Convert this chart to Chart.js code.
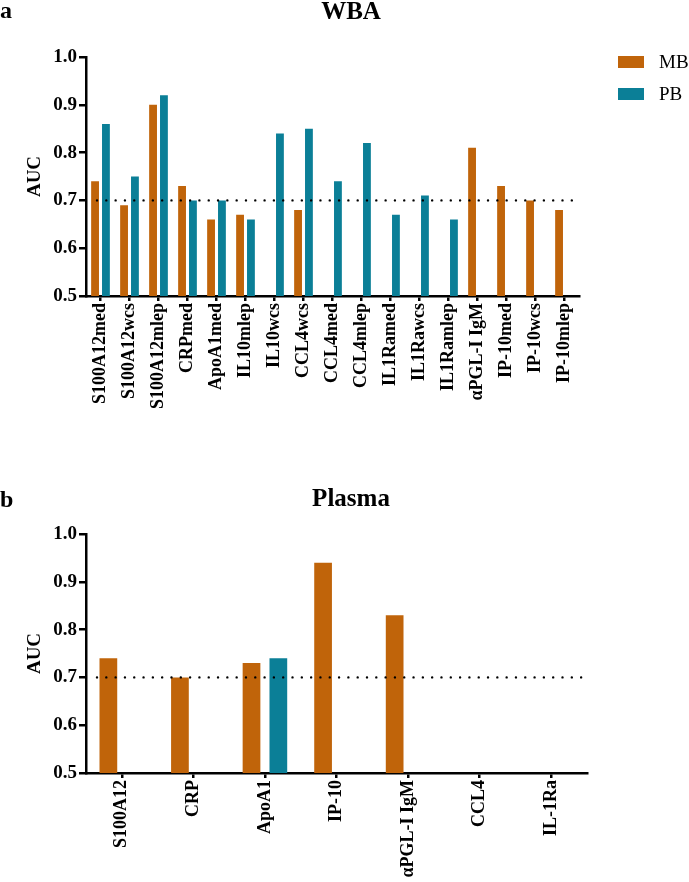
<!DOCTYPE html>
<html>
<head>
<meta charset="utf-8">
<script src="https://cdn.jsdelivr.net/npm/chart.js@4.4.1/dist/chart.umd.min.js"></script>
<style>
  html, body { margin: 0; padding: 0; background: #fff; width: 689px; height: 882px; overflow: hidden; }
  #wrap { position: relative; width: 689px; height: 882px; overflow: hidden; }
  canvas { position: absolute; left: 0; }
  #c1 { top: 0; }
  #c2 { top: 470px; }
</style>
</head>
<body>
<div id="wrap">
<canvas id="c1" width="702" height="440"></canvas>
<canvas id="c2" width="702" height="412"></canvas>
</div>
<script>
// ---- Data ----
const seriesNames = ['MB', 'PB'];
const wbaCategories = ['S100A12med', 'S100A12wcs', 'S100A12mlep', 'CRPmed', 'ApoA1med', 'IL10mlep', 'IL10wcs',
  'CCL4wcs', 'CCL4med', 'CCL4mlep', 'IL1Ramed', 'IL1Rawcs', 'IL1Ramlep', 'αPGL-I IgM', 'IP-10med', 'IP-10wcs', 'IP-10mlep'];
const wbaMB = [0.74, 0.69, 0.90, 0.73, 0.66, 0.67, null, 0.68, null, null, null, null, null, 0.81, 0.73, 0.70, 0.68];
const wbaPB = [0.86, 0.75, 0.92, 0.70, 0.70, 0.66, 0.84, 0.85, 0.74, 0.82, 0.67, 0.71, 0.66, null, null, null, null];

const plasmaCategories = ['S100A12', 'CRP', 'ApoA1', 'IP-10', 'αPGL-I IgM', 'CCL4', 'IL-1Ra'];
const plasmaMB = [0.74, 0.70, 0.73, 0.94, 0.83, null, null];
const plasmaPB = [null, null, 0.74, null, null, null, null];

const yTicks = [0.5, 0.6, 0.7, 0.8, 0.9, 1.0];
const threshold = 0.7;

// ---- Styles ----
const MB_COLOR = '#C0640A';
const PB_COLOR = '#0B7F97';
const SERIF = '"Liberation Serif", "Times New Roman", serif';

const thresholdPlugin = {
  id: 'threshold',
  afterDatasetsDraw(chart) {
    const { ctx, chartArea } = chart;
    const y = chart.scales.y.getPixelForValue(threshold);
    ctx.save();
    ctx.strokeStyle = '#000';
    ctx.lineWidth = 2.4;
    ctx.lineCap = 'round';
    ctx.setLineDash([0.01, 9.3]);
    ctx.beginPath();
    ctx.moveTo(chartArea.left + 11, y);
    ctx.lineTo(chartArea.right - 4, y);
    ctx.stroke();
    ctx.restore();
  }
};

const panelLetterPlugin = {
  id: 'panelLetter',
  afterDraw(chart, args, opts) {
    const ctx = chart.ctx;
    ctx.save();
    ctx.fillStyle = '#000';
    ctx.font = 'bold 24px ' + SERIF;
    ctx.textBaseline = 'alphabetic';
    ctx.textAlign = 'left';
    ctx.fillText(opts.text, 0, opts.baseline);
    ctx.restore();
  }
};

const sideLegendPlugin = {
  id: 'sideLegend',
  afterDraw(chart, args, opts) {
    if (!opts.show) return;
    const ctx = chart.ctx;
    ctx.save();
    chart.data.datasets.forEach((ds, i) => {
      const cy = 62 + i * 32;
      ctx.fillStyle = ds.backgroundColor;
      ctx.fillRect(618, cy - 6, 26, 12);
      ctx.fillStyle = '#000';
      ctx.font = '19px ' + SERIF;
      ctx.textBaseline = 'middle';
      ctx.textAlign = 'left';
      ctx.fillText(ds.label, 659, cy + 1);
    });
    ctx.restore();
  }
};

function makeChart(id, cats, mb, pb, cfg) {
  return new Chart(document.getElementById(id), {
    type: 'bar',
    data: {
      labels: cats,
      datasets: [
        { label: seriesNames[0], data: mb, backgroundColor: MB_COLOR, categoryPercentage: 0.75, barPercentage: cfg.barPct },
        { label: seriesNames[1], data: pb, backgroundColor: PB_COLOR, categoryPercentage: 0.75, barPercentage: cfg.barPct }
      ]
    },
    options: {
      responsive: false,
      animation: false,
      devicePixelRatio: 1,
      layout: { padding: { left: 0, right: 0, top: cfg.padTop, bottom: 0 } },
      plugins: {
        legend: { display: false },
        tooltip: { enabled: false },
        title: {
          display: true,
          text: cfg.title,
          color: '#000',
          font: { family: SERIF, size: 25, weight: 'bold', lineHeight: 1.0 },
          padding: { top: 0, bottom: cfg.titleBottom }
        },
        panelLetter: { text: cfg.letter, baseline: cfg.letterBase },
        sideLegend: { show: cfg.legend }
      },
      scales: {
        x: {
          grid: { display: true, drawOnChartArea: false, drawTicks: true, tickLength: 5, offset: false, color: '#000', lineWidth: 2.5 },
          border: { display: true, color: '#000', width: 2.5 },
          ticks: {
            color: '#000', autoSkip: false, maxRotation: 90, minRotation: 90, padding: 2,
            font: { family: SERIF, size: 18, weight: 'bold' }
          },
          afterFit(scale) { scale.height = cfg.xHeight; }
        },
        y: {
          min: yTicks[0], max: yTicks[yTicks.length - 1],
          afterBuildTicks(scale) { scale.ticks = yTicks.map(v => ({ value: v })); },
          grid: { display: true, drawOnChartArea: false, drawTicks: true, tickLength: 7, color: '#000', lineWidth: 2.5 },
          border: { display: true, color: '#000', width: 2.5 },
          ticks: {
            color: '#000', padding: 2,
            font: { family: SERIF, size: 19, weight: 'bold' },
            callback: v => Number(v).toFixed(1)
          },
          title: {
            display: true, text: 'AUC', color: '#000',
            font: { family: SERIF, size: 19, weight: 'bold' },
            padding: { top: 24, bottom: 0 }
          },
          afterFit(scale) { scale.width = 86; }
        },
        spacer: {
          type: 'linear', position: 'right', display: true,
          grid: { display: false }, border: { display: false }, ticks: { display: false },
          afterFit(scale) { scale.width = cfg.rightSpace; }
        }
      }
    },
    plugins: [thresholdPlugin, panelLetterPlugin, sideLegendPlugin]
  });
}

makeChart('c1', wbaCategories, wbaMB, wbaPB, {
  title: 'WBA', letter: 'a', letterBase: 18, legend: true, barPct: 0.72,
  padTop: 0, titleBottom: 32, xHeight: 144, rightSpace: 123
});
makeChart('c2', plasmaCategories, plasmaMB, plasmaPB, {
  title: 'Plasma', letter: 'b', letterBase: 37, legend: false, barPct: 0.66,
  padTop: 17, titleBottom: 22, xHeight: 109, rightSpace: 115
});
</script>
</body>
</html>
